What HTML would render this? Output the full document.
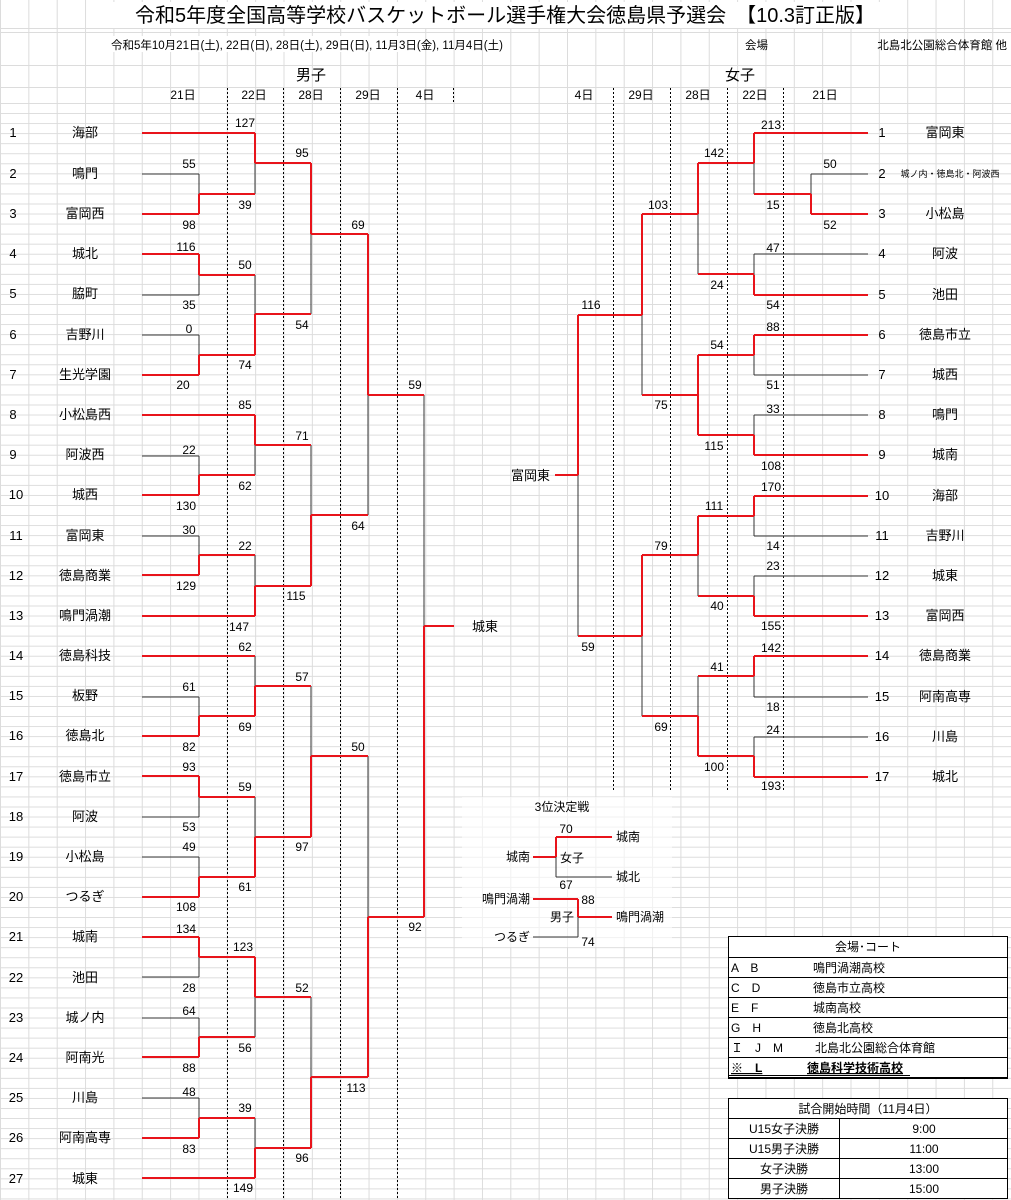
<!DOCTYPE html>
<html><head><meta charset="utf-8">
<style>
html,body{margin:0;padding:0;background:#fff;}
svg{display:block;}
text{font-family:"Liberation Sans","Noto Sans CJK JP",sans-serif;fill:#000;}
.s{font-size:12px;text-anchor:middle;}
.n{font-size:12px;text-anchor:middle;}
.t{font-size:13px;text-anchor:middle;}
.r{stroke:#e8141b;stroke-width:2;fill:none;}
.b{stroke:#333;stroke-width:1;fill:none;}
.d{stroke:#000;stroke-width:1;stroke-dasharray:2 2;fill:none;}
</style></head><body>
<svg width="1011" height="1200" viewBox="0 0 1011 1200" xmlns="http://www.w3.org/2000/svg">
<defs>
<pattern id="gv" x="0" y="0" width="28.35" height="1200" patternUnits="userSpaceOnUse"><line x1="0.5" y1="0" x2="0.5" y2="1200" stroke="#dcdcdc" stroke-width="1"/></pattern>
<pattern id="gh" x="0" y="103" width="1011" height="10.05" patternUnits="userSpaceOnUse"><line x1="0" y1="0.5" x2="1011" y2="0.5" stroke="#dcdcdc" stroke-width="1"/></pattern>
</defs>
<rect x="0" y="0" width="1011" height="1200" fill="url(#gv)"/>
<rect x="0" y="103" width="1011" height="1097" fill="url(#gh)"/>
<g stroke="#dcdcdc" stroke-width="1">
<line x1="0" y1="28.5" x2="1011" y2="28.5"/><line x1="0" y1="32.5" x2="1011" y2="32.5"/>
<line x1="0" y1="65.5" x2="1011" y2="65.5"/><line x1="0" y1="87.5" x2="1011" y2="87.5"/>
</g>
<!-- title area white -->
<rect x="110" y="2" width="790" height="26" fill="#fff"/>
<text x="505" y="22" style="font-size:20px;text-anchor:middle">令和5年度全国高等学校バスケットボール選手権大会徳島県予選会　【10.3訂正版】</text>
<rect x="105" y="36" width="300" height="16" fill="#fff"/>
<text x="111" y="49" style="font-size:11.5px">令和5年10月21日(土), 22日(日), 28日(土), 29日(日), 11月3日(金), 11月4日(土)</text>
<text x="745" y="49" style="font-size:11.5px">会場</text>
<text x="1007" y="49" style="font-size:11.5px;text-anchor:end">北島北公園総合体育館 他</text>
<text x="311" y="80" style="font-size:15px;text-anchor:middle">男子</text>
<text x="740" y="80" style="font-size:15px;text-anchor:middle">女子</text>
<g class="n">
<text x="183" y="99">21日</text><text x="254" y="99">22日</text><text x="311" y="99">28日</text><text x="368" y="99">29日</text><text x="425" y="99">4日</text>
<text x="584" y="99">4日</text><text x="641" y="99">29日</text><text x="698" y="99">28日</text><text x="755" y="99">22日</text><text x="825" y="99">21日</text>
</g>
<!-- dotted -->
<g class="d">
<line x1="227.5" y1="88" x2="227.5" y2="1200"/><line x1="283.5" y1="88" x2="283.5" y2="1200"/>
<line x1="340.5" y1="88" x2="340.5" y2="1200"/><line x1="397.5" y1="88" x2="397.5" y2="1200"/>
<line x1="453.5" y1="88" x2="453.5" y2="102"/>
<line x1="613.5" y1="88" x2="613.5" y2="790"/><line x1="670.5" y1="88" x2="670.5" y2="790"/>
<line x1="727.5" y1="88" x2="727.5" y2="790"/><line x1="783.5" y1="88" x2="783.5" y2="790"/>
</g>
<!-- Men black -->
<path class="b" d="M142 174H199M142 295H199M142 335H199M142 456H199M142 536H199M142 697H199M142 817H199M142 857H199M142 977H199M142 1018H199M142 1098H199
M199 174V194M199 275V295M199 335V355M199 456V475M199 536V555M199 697V716M199 797V817M199 857V877M199 957V977M199 1018V1037M199 1098V1118
M255 163V194M255 275V314M255 445V475M255 555V586M255 656V686M255 797V837M255 997V1037M255 1118V1148
M311 234V314M311 445V515M311 686V756M311 997V1077
M368 395V515M368 756V917M424 395V626"/>
<!-- Men red -->
<path class="r" d="M142 133H255M142 214H199M199 194H255M255 163H311M142 254H199M199 275H255M142 375H199M199 355H255M255 314H311M311 234H368M368 395H424
M142 415H255M142 495H199M199 475H255M255 445H311M142 575H199M199 555H255M142 616H255M255 586H311M311 515H368M424 626H454
M142 656H255M142 736H199M199 716H255M255 686H311M142 776H199M199 797H255M142 897H199M199 877H255M255 837H311M311 756H368M368 917H424
M142 937H199M199 957H255M142 1057H199M199 1037H255M255 997H311M142 1138H199M199 1118H255M142 1178H255M255 1148H311M311 1077H368
M199 194V214M199 254V275M199 355V375M199 475V495M199 555V575M199 716V736M199 776V797M199 877V897M199 937V957M199 1037V1057M199 1118V1138
M255 133V163M255 314V355M255 415V445M255 586V616M255 686V716M255 837V877M255 957V997M255 1148V1178
M311 163V234M311 515V586M311 756V837M311 1077V1148M368 234V395M368 917V1077M424 626V917"/>
<!-- Women black -->
<path class="b" d="M811 174H868M754 254H868M754 375H868M754 415H868M754 536H868M754 576H868M754 697H868M754 737H868
M811 174V194M754 163V194M754 254V275M754 355V375M754 415V435M754 516V536M754 576V596M754 676V697M754 737V756
M698 214V274M698 555V596M698 676V716M642 315V395M642 636V716M578 475V636"/>
<!-- Women red -->
<path class="r" d="M754 133H868M811 214H868M754 194H811M698 163H754M754 295H868M698 274H754M642 214H698M754 335H868M698 355H754M754 455H868M698 435H754M642 395H698M578 315H642M555 475H578
M754 496H868M698 516H754M754 616H868M698 596H754M642 555H698M754 656H868M698 676H754M754 777H868M698 756H754M642 716H698M578 636H642
M811 194V214M754 133V163M754 275V295M754 335V355M754 435V455M754 496V516M754 596V616M754 656V676M754 756V777
M698 163V214M698 355V435M698 516V555M698 716V756M642 214V315M642 555V636M578 315V475"/>
<!-- Men numbers & names -->
<g class="t">
<text x="13" y="137">1</text><text x="85" y="137">海部</text>
<text x="13" y="178">2</text><text x="85" y="178">鳴門</text>
<text x="13" y="218">3</text><text x="85" y="218">富岡西</text>
<text x="13" y="258">4</text><text x="85" y="258">城北</text>
<text x="13" y="298">5</text><text x="85" y="298">脇町</text>
<text x="13" y="339">6</text><text x="85" y="339">吉野川</text>
<text x="13" y="379">7</text><text x="85" y="379">生光学園</text>
<text x="13" y="419">8</text><text x="85" y="419">小松島西</text>
<text x="13" y="459">9</text><text x="85" y="459">阿波西</text>
<text x="16" y="499">10</text><text x="85" y="499">城西</text>
<text x="16" y="540">11</text><text x="85" y="540">富岡東</text>
<text x="16" y="580">12</text><text x="85" y="580">徳島商業</text>
<text x="16" y="620">13</text><text x="85" y="620">鳴門渦潮</text>
<text x="16" y="660">14</text><text x="85" y="660">徳島科技</text>
<text x="16" y="700">15</text><text x="85" y="700">板野</text>
<text x="16" y="740">16</text><text x="85" y="740">徳島北</text>
<text x="16" y="781">17</text><text x="85" y="781">徳島市立</text>
<text x="16" y="821">18</text><text x="85" y="821">阿波</text>
<text x="16" y="861">19</text><text x="85" y="861">小松島</text>
<text x="16" y="901">20</text><text x="85" y="901">つるぎ</text>
<text x="16" y="941">21</text><text x="85" y="941">城南</text>
<text x="16" y="982">22</text><text x="85" y="982">池田</text>
<text x="16" y="1022">23</text><text x="85" y="1022">城ノ内</text>
<text x="16" y="1062">24</text><text x="85" y="1062">阿南光</text>
<text x="16" y="1102">25</text><text x="85" y="1102">川島</text>
<text x="16" y="1142">26</text><text x="85" y="1142">阿南高専</text>
<text x="16" y="1183">27</text><text x="85" y="1183">城東</text>
</g>
<text x="472" y="631" style="font-size:13px">城東</text>
<!-- Men scores -->
<g class="s">
<text x="245" y="127">127</text><text x="302" y="157">95</text><text x="189" y="168">55</text><text x="245" y="209">39</text><text x="189" y="229">98</text><text x="358" y="229">69</text>
<text x="186" y="251">116</text><text x="245" y="269">50</text><text x="189" y="309">35</text><text x="302" y="329">54</text><text x="189" y="333">0</text><text x="245" y="369">74</text><text x="183" y="389">20</text><text x="415" y="389">59</text>
<text x="245" y="409">85</text><text x="302" y="440">71</text><text x="189" y="454">22</text><text x="245" y="490">62</text><text x="186" y="510">130</text><text x="358" y="530">64</text>
<text x="189" y="534">30</text><text x="245" y="550">22</text><text x="186" y="590">129</text><text x="296" y="600">115</text><text x="239" y="631">147</text><text x="245" y="651">62</text><text x="302" y="681">57</text><text x="189" y="691">61</text>
<text x="245" y="731">69</text><text x="189" y="751">82</text><text x="358" y="751">50</text><text x="189" y="771">93</text><text x="245" y="791">59</text><text x="189" y="831">53</text><text x="189" y="851">49</text><text x="302" y="851">97</text>
<text x="245" y="891">61</text><text x="186" y="911">108</text><text x="415" y="931">92</text><text x="186" y="933">134</text>
<text x="243" y="951">123</text><text x="302" y="992">52</text><text x="189" y="992">28</text><text x="189" y="1015">64</text><text x="245" y="1052">56</text><text x="189" y="1072">88</text><text x="356" y="1092">113</text>
<text x="189" y="1096">48</text><text x="245" y="1112">39</text><text x="189" y="1153">83</text><text x="302" y="1162">96</text><text x="243" y="1192">149</text>
</g>
<!-- Women numbers & names -->
<g class="t">
<text x="882" y="137">1</text><text x="945" y="137">富岡東</text>
<text x="882" y="178">2</text><text x="950" y="177" style="font-size:9px">城ノ内・徳島北・阿波西</text>
<text x="882" y="218">3</text><text x="945" y="218">小松島</text>
<text x="882" y="258">4</text><text x="945" y="258">阿波</text>
<text x="882" y="299">5</text><text x="945" y="299">池田</text>
<text x="882" y="339">6</text><text x="945" y="339">徳島市立</text>
<text x="882" y="379">7</text><text x="945" y="379">城西</text>
<text x="882" y="419">8</text><text x="945" y="419">鳴門</text>
<text x="882" y="459">9</text><text x="945" y="459">城南</text>
<text x="882" y="500">10</text><text x="945" y="500">海部</text>
<text x="882" y="540">11</text><text x="945" y="540">吉野川</text>
<text x="882" y="580">12</text><text x="945" y="580">城東</text>
<text x="882" y="620">13</text><text x="945" y="620">富岡西</text>
<text x="882" y="660">14</text><text x="945" y="660">徳島商業</text>
<text x="882" y="701">15</text><text x="945" y="701">阿南高専</text>
<text x="882" y="741">16</text><text x="945" y="741">川島</text>
<text x="882" y="781">17</text><text x="945" y="781">城北</text>
</g>
<text x="550" y="480" style="font-size:13px;text-anchor:end">富岡東</text>
<!-- Women scores -->
<g class="s">
<text x="771" y="129">213</text><text x="714" y="157">142</text><text x="830" y="168">50</text><text x="658" y="209">103</text><text x="773" y="209">15</text><text x="830" y="229">52</text>
<text x="773" y="252">47</text><text x="717" y="289">24</text><text x="773" y="309">54</text><text x="591" y="309">116</text><text x="773" y="331">88</text><text x="717" y="349">54</text><text x="773" y="389">51</text>
<text x="661" y="409">75</text><text x="773" y="413">33</text><text x="714" y="450">115</text><text x="771" y="470">108</text><text x="771" y="491">170</text><text x="714" y="510">111</text>
<text x="661" y="550">79</text><text x="773" y="550">14</text><text x="773" y="570">23</text><text x="717" y="610">40</text><text x="771" y="630">155</text><text x="588" y="651">59</text><text x="771" y="652">142</text><text x="717" y="671">41</text>
<text x="773" y="711">18</text><text x="661" y="731">69</text><text x="773" y="734">24</text><text x="714" y="771">100</text><text x="771" y="790">193</text>
</g>
<!-- 3rd place -->
<rect x="462" y="797" width="210" height="150" fill="#fff" opacity="0.6"/>
<text x="562" y="811" style="font-size:12px;text-anchor:middle">3位決定戦</text>
<path class="r" d="M533 857H556M556 837V857M556 837H612M533 899H578M578 899V917M578 917H612"/>
<path class="b" d="M556 857V877M556 877H612M533 937H578M578 917V937"/>
<g style="font-size:12px">
<text x="530" y="861" style="text-anchor:end">城南</text>
<text x="616" y="841">城南</text><text x="616" y="881">城北</text>
<text x="560" y="862">女子</text>
<text x="566" y="833" style="text-anchor:middle">70</text><text x="566" y="889" style="text-anchor:middle">67</text>
<text x="530" y="903" style="text-anchor:end">鳴門渦潮</text>
<text x="616" y="921">鳴門渦潮</text>
<text x="574" y="921" style="text-anchor:end">男子</text>
<text x="530" y="941" style="text-anchor:end">つるぎ</text>
<text x="588" y="904" style="text-anchor:middle">88</text><text x="588" y="946" style="text-anchor:middle">74</text>
</g>
<!-- Venue table -->
<g>
<rect x="728.5" y="936.5" width="279" height="141" fill="#fff" stroke="#000" stroke-width="1"/>
<g stroke="#000" stroke-width="1">
<line x1="728" y1="957.5" x2="1008" y2="957.5"/><line x1="728" y1="977.5" x2="1008" y2="977.5"/>
<line x1="728" y1="997.5" x2="1008" y2="997.5"/><line x1="728" y1="1017.5" x2="1008" y2="1017.5"/>
<line x1="728" y1="1037.5" x2="1008" y2="1037.5"/><line x1="728" y1="1057.5" x2="1008" y2="1057.5"/>
<line x1="728" y1="1078" x2="1008" y2="1078" stroke-width="2"/>
</g>
<g style="font-size:12px">
<text x="868" y="951" style="text-anchor:middle">会場･コート</text>
<text x="731" y="972">A　B</text><text x="813" y="972">鳴門渦潮高校</text>
<text x="731" y="992">C　D</text><text x="813" y="992">徳島市立高校</text>
<text x="731" y="1012">E　F</text><text x="813" y="1012">城南高校</text>
<text x="731" y="1032">G　H</text><text x="813" y="1032">徳島北高校</text>
<text x="731" y="1052">Ｉ　J　M</text><text x="815" y="1052">北島北公園総合体育館</text>
<text x="731" y="1072" style="font-weight:bold;text-decoration:underline">※　L</text>
<text x="807" y="1072" style="font-weight:bold;text-decoration:underline">徳島科学技術高校</text>
</g>
<line x1="729" y1="1075.5" x2="910" y2="1075.5" stroke="#000" stroke-width="1"/>
</g>
<!-- Time table -->
<g>
<rect x="728.5" y="1098.5" width="279" height="100" fill="#fff" stroke="#000" stroke-width="1"/>
<g stroke="#000" stroke-width="1">
<line x1="728" y1="1118.5" x2="1008" y2="1118.5"/><line x1="728" y1="1138.5" x2="1008" y2="1138.5"/>
<line x1="728" y1="1158.5" x2="1008" y2="1158.5"/><line x1="728" y1="1178.5" x2="1008" y2="1178.5"/>
<line x1="839.5" y1="1118" x2="839.5" y2="1199"/>
</g>
<g style="font-size:12px;text-anchor:middle">
<text x="868" y="1113">試合開始時間（11月4日）</text>
<text x="784" y="1133">U15女子決勝</text><text x="924" y="1133">9:00</text>
<text x="784" y="1153">U15男子決勝</text><text x="924" y="1153">11:00</text>
<text x="784" y="1173">女子決勝</text><text x="924" y="1173">13:00</text>
<text x="784" y="1193">男子決勝</text><text x="924" y="1193">15:00</text>
</g>
</g>
</svg>
</body></html>
